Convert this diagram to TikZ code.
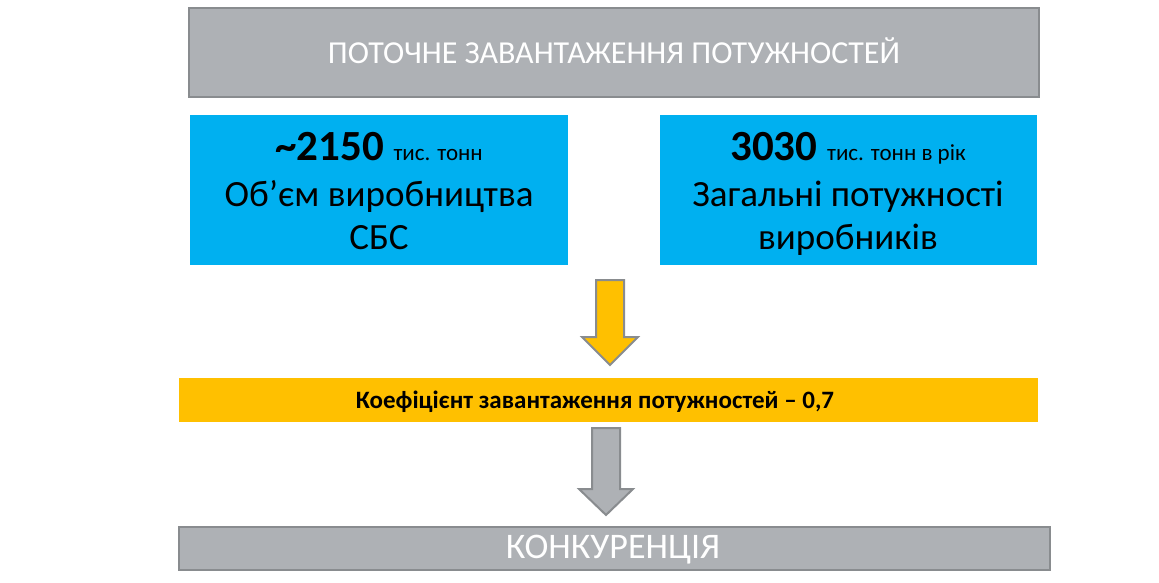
\documentclass[tikz,border=0pt]{standalone}
\usepackage{fontspec}
\setmainfont{Carlito}
\definecolor{boxgray}{HTML}{AEB1B5}
\definecolor{edgegray}{HTML}{898C8F}
\definecolor{skyblue}{HTML}{00B0F0}
\definecolor{gold}{HTML}{FFC000}
\begin{document}
\begin{tikzpicture}[x=1pt,y=-1pt,
  graybox/.style={draw=edgegray, line width=2.5pt, fill=boxgray, inner sep=0pt},
  bluebox/.style={fill=skyblue, draw=none, inner sep=0pt},
  goldbar/.style={fill=gold, draw=none, inner sep=0pt},
  blockarrow/.style={draw=edgegray, line width=2pt, line join=miter},
  whitetext/.style={text=white, inner sep=0pt, anchor=base},
  darktext/.style={text=black, inner sep=0pt, anchor=base}]
\useasboundingbox (0,0) rectangle (1159,582);
% boxes
\node[graybox, minimum width=850pt, minimum height=89pt] (top) at (614,52.5) {};
\node[bluebox, minimum width=378pt, minimum height=150pt] (left) at (379,190) {};
\node[bluebox, minimum width=377pt, minimum height=150pt] (right) at (848.5,190) {};
\node[goldbar, minimum width=859pt, minimum height=44pt] (coef) at (608.5,400) {};
\node[graybox, minimum width=871pt, minimum height=43pt] (comp) at (614.5,548.5) {};
% texts
\node[whitetext, font=\fontsize{32}{38}\selectfont] (toptext) at (614,63) {ПОТОЧНЕ ЗАВАНТАЖЕННЯ ПОТУЖНОСТЕЙ};
\node[darktext] (l1) at (379,160) {\fontsize{43}{50}\selectfont\bfseries \char`\~2150 \fontsize{23}{27}\selectfont\mdseries тис. тонн};
\node[darktext, font=\fontsize{37}{44}\selectfont] (l2) at (379,206) {Об’єм виробництва};
\node[darktext, font=\fontsize{37}{44}\selectfont] (l3) at (379,249) {СБС};
\node[darktext] (r1) at (848,160) {\fontsize{43}{50}\selectfont\bfseries 3030 \fontsize{23}{27}\selectfont\mdseries тис. тонн в рік};
\node[darktext, font=\fontsize{37}{44}\selectfont] (r2) at (848,206) {Загальні потужності};
\node[darktext, font=\fontsize{37}{44}\selectfont] (r3) at (848,249) {виробників};
\node[darktext, font=\fontsize{25}{30}\selectfont\bfseries] (coeftext) at (595,408) {Коефіцієнт завантаження потужностей – 0,7};
\node[whitetext, font=\fontsize{36}{43}\selectfont] (comptext) at (613,558) {КОНКУРЕНЦІЯ};
% block arrows
\draw[blockarrow, fill=gold] (596,280) -- (624,280) -- (624,337) -- (638,337) -- (610,365) -- (582,337) -- (596,337) -- cycle;
\draw[blockarrow, fill=boxgray] (592,428) -- (620,428) -- (620,489) -- (633,489) -- (606,515) -- (579,489) -- (592,489) -- cycle;
\end{tikzpicture}
\end{document}
